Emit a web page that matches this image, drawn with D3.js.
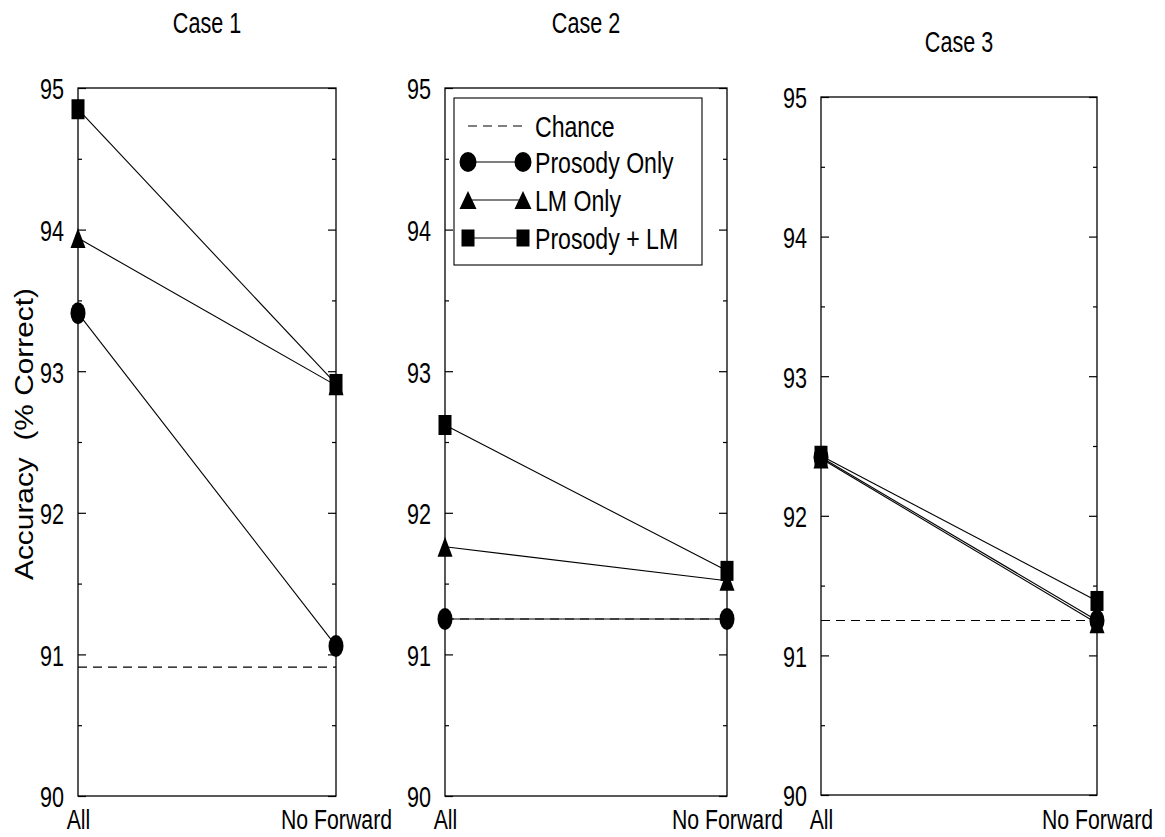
<!DOCTYPE html>
<html>
<head>
<meta charset="utf-8">
<script src="https://cdn.jsdelivr.net/npm/d3@7"></script>
<style>
  html, body { margin: 0; padding: 0; background: #fff; }
  svg { display: block; }
  text { font-family: "Liberation Sans", Arial, Helvetica, sans-serif; fill: #000; }
</style>
</head>
<body>
<svg id="chart" width="1165" height="837"></svg>
<script>
// ---- data ----
const cases = ["Case 1", "Case 2", "Case 3"];
const conditions = ["All", "No Forward"];
const yTicks = [90, 91, 92, 93, 94, 95];
const yMinorTicks = [90.5, 91.5, 92.5, 93.5, 94.5];
const seriesNames = ["Chance", "Prosody Only", "LM Only", "Prosody + LM"];
const chance = [90.91, 91.25, 91.25];
const prosodyOnly = [[93.41, 91.06], [91.25, 91.25], [92.42, 91.25]];
const lmOnly = [[93.94, 92.90], [91.76, 91.52], [92.41, 91.23]];
const prosodyLM = [[94.85, 92.91], [92.62, 91.59], [92.43, 91.39]];
const yLabel = "Accuracy  (% Correct)";

// ---- layout ----
const panels = [
  { x0: 78, x1: 336, y0: 88, y1: 796, titleY: 33 },
  { x0: 445, x1: 727, y0: 88, y1: 796, titleY: 33 },
  { x0: 821, x1: 1097, y0: 97, y1: 795, titleY: 52 }
];
const SX = 0.72;      // horizontal condensation of the Helvetica-narrow look
const FS = 30;
const XFS = 28;
const XBASE = 829;

const svg = d3.select("#chart");

function condensedText(g, x, y, str, anchor, size, sx) {
  return g.append("text")
    .attr("transform", `translate(${x},${y}) scale(${sx},1)`)
    .attr("text-anchor", anchor)
    .style("font-size", size + "px")
    .text(str);
}

// marker drawers (vertically stretched, as in the original)
function drawMarker(g, type, cx, cy, w, h) {
  if (type === "circle") {
    g.append("ellipse").attr("cx", cx).attr("cy", cy).attr("rx", w / 2).attr("ry", h / 2).attr("fill", "#000");
  } else if (type === "square") {
    g.append("rect").attr("x", cx - w / 2).attr("y", cy - h / 2).attr("width", w).attr("height", h).attr("fill", "#000");
  } else if (type === "triangle") {
    g.append("path")
      .attr("d", `M${cx},${cy - h / 2}L${cx + w / 2},${cy + h / 2}L${cx - w / 2},${cy + h / 2}Z`)
      .attr("fill", "#000");
  }
}

const seriesDefs = [
  { name: seriesNames[3], data: prosodyLM, marker: "square", w: 13, h: 20 },
  { name: seriesNames[2], data: lmOnly, marker: "triangle", w: 15, h: 20 },
  { name: seriesNames[1], data: prosodyOnly, marker: "circle", w: 15, h: 22 }
];

panels.forEach((p, i) => {
  const g = svg.append("g");
  const x = d3.scalePoint().domain(conditions).range([p.x0, p.x1]);
  const y = d3.scaleLinear().domain([90, 95]).range([p.y1, p.y0]);

  // title
  condensedText(g, (p.x0 + p.x1) / 2, p.titleY, cases[i], "middle", FS, SX);

  // left major ticks + labels
  const left = g.append("g").attr("transform", `translate(${p.x0},0)`)
    .call(d3.axisLeft(y).tickValues(yTicks).tickSize(-8).tickPadding(15).tickFormat(d3.format("d")));
  left.select(".domain").remove();
  left.selectAll(".tick line").attr("stroke", "#000").attr("stroke-width", 1.2);
  left.selectAll(".tick text")
    .attr("x", null).attr("dy", null)
    .attr("transform", `translate(-14,0) scale(${SX},1)`)
    .attr("dy", "0.36em")
    .style("font-size", FS + "px")
    .style("font-family", '"Liberation Sans", Arial, sans-serif');

  // left minor ticks
  const leftMinor = g.append("g").attr("transform", `translate(${p.x0},0)`)
    .call(d3.axisLeft(y).tickValues(yMinorTicks).tickSize(-4).tickFormat(""));
  leftMinor.select(".domain").remove();
  leftMinor.selectAll(".tick line").attr("stroke", "#000").attr("stroke-width", 1.2);

  // right ticks
  const right = g.append("g").attr("transform", `translate(${p.x1},0)`)
    .call(d3.axisRight(y).tickValues(yTicks).tickSize(-8).tickFormat(""));
  right.select(".domain").remove();
  right.selectAll(".tick line").attr("stroke", "#000").attr("stroke-width", 1.2);
  const rightMinor = g.append("g").attr("transform", `translate(${p.x1},0)`)
    .call(d3.axisRight(y).tickValues(yMinorTicks).tickSize(-4).tickFormat(""));
  rightMinor.select(".domain").remove();
  rightMinor.selectAll(".tick line").attr("stroke", "#000").attr("stroke-width", 1.2);

  // x labels
  const bottom = g.append("g").attr("transform", `translate(0,${p.y1})`)
    .call(d3.axisBottom(x).tickSize(0).tickPadding(0));
  bottom.select(".domain").remove();
  bottom.selectAll(".tick text")
    .attr("y", null).attr("dy", null)
    .attr("transform", `translate(0,${XBASE - p.y1}) scale(0.76,1)`)
    .style("font-size", XFS + "px")
    .style("font-family", '"Liberation Sans", Arial, sans-serif');

  // frame
  g.append("rect")
    .attr("x", p.x0).attr("y", p.y0)
    .attr("width", p.x1 - p.x0).attr("height", p.y1 - p.y0)
    .attr("fill", "none").attr("stroke", "#000").attr("stroke-width", 1.3);

  // chance line
  g.append("line")
    .attr("x1", x(conditions[0])).attr("x2", x(conditions[1]))
    .attr("y1", y(chance[i])).attr("y2", y(chance[i]))
    .attr("stroke", "#000").attr("stroke-width", 1.1).attr("stroke-dasharray", "9,6");

  // series lines
  const line = d3.line().x((d, j) => x(conditions[j])).y(d => y(d));
  seriesDefs.forEach(s => {
    g.append("path").datum(s.data[i]).attr("d", line)
      .attr("fill", "none").attr("stroke", "#000").attr("stroke-width", 1.1);
  });
  // markers
  seriesDefs.forEach(s => {
    s.data[i].forEach((v, j) => drawMarker(g, s.marker, x(conditions[j]), y(v), s.w, s.h));
  });
});

// y axis label
svg.append("text")
  .attr("transform", "translate(33,434) rotate(-90)")
  .attr("text-anchor", "middle")
  .attr("textLength", 292)
  .attr("lengthAdjust", "spacingAndGlyphs")
  .style("font-size", "25px")
  .style("white-space", "pre")
  .text(yLabel);

// legend
const lg = svg.append("g");
lg.append("rect").attr("x", 454).attr("y", 98).attr("width", 248).attr("height", 167)
  .attr("fill", "#fff").attr("stroke", "#000").attr("stroke-width", 1.1);
const legendItems = [
  { name: seriesNames[0], marker: null, y: 126 },
  { name: seriesNames[1], marker: "circle", y: 162, w: 17, h: 20 },
  { name: seriesNames[2], marker: "triangle", y: 200, w: 17, h: 18 },
  { name: seriesNames[3], marker: "square", y: 238, w: 13, h: 17 }
];
legendItems.forEach(it => {
  if (!it.marker) {
    lg.append("line").attr("x1", 468).attr("x2", 523).attr("y1", it.y).attr("y2", it.y)
      .attr("stroke", "#000").attr("stroke-width", 1.1).attr("stroke-dasharray", "9,6");
  } else {
    lg.append("line").attr("x1", 468).attr("x2", 523).attr("y1", it.y).attr("y2", it.y)
      .attr("stroke", "#000").attr("stroke-width", 1.1);
    drawMarker(lg, it.marker, 468, it.y, it.w, it.h);
    drawMarker(lg, it.marker, 523, it.y, it.w, it.h);
  }
  condensedText(lg, 535, it.y + 11, it.name, "start", FS, 0.77);
});
</script>
</body>
</html>
